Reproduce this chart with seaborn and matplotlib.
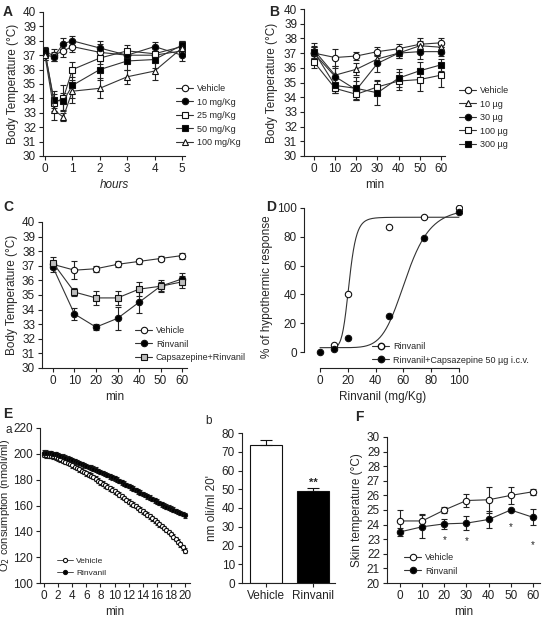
import matplotlib
matplotlib.use("Agg")
import matplotlib.pyplot as plt
import seaborn as sns
import numpy as np
import pandas as pd

# ---- panel A data (hours) ----
a_hours = [0, 0.33, 0.67, 1, 2, 3, 4, 5]
a_vehicle = [37.2, 37.0, 37.3, 37.6, 37.2, 37.0, 37.0, 37.3]
a_vehicle_err = [0.3, 0.4, 0.4, 0.4, 0.6, 0.3, 0.3, 0.3]
a_10 = [37.0, 36.9, 37.8, 38.0, 37.5, 37.0, 37.6, 37.0]
a_10_err = [0.3, 0.3, 0.4, 0.3, 0.5, 0.3, 0.3, 0.4]
a_25 = [37.3, 33.7, 34.0, 36.0, 36.8, 37.3, 37.1, 37.6]
a_25_err = [0.3, 0.6, 0.9, 0.5, 0.4, 0.4, 0.4, 0.3]
a_50 = [37.2, 33.9, 33.8, 34.9, 36.0, 36.6, 36.7, 37.7]
a_50_err = [0.3, 0.6, 0.6, 0.9, 0.7, 0.6, 0.6, 0.3]
a_100 = [37.0, 33.2, 32.7, 34.5, 34.7, 35.5, 35.9, 37.5]
a_100_err = [0.3, 0.7, 0.3, 0.8, 0.7, 0.5, 0.6, 0.5]

# ---- panel B data (min) ----
b_min = [0, 10, 20, 30, 40, 50, 60]
b_vehicle = [37.0, 36.7, 36.8, 37.1, 37.3, 37.6, 37.7]
b_vehicle_err = [0.4, 0.6, 0.3, 0.3, 0.3, 0.4, 0.3]
b_10 = [37.2, 35.5, 35.9, 36.6, 37.0, 37.5, 37.4]
b_10_err = [0.5, 0.6, 0.4, 0.3, 0.3, 0.3, 0.3]
b_30 = [37.0, 35.4, 34.5, 36.3, 37.0, 37.1, 37.1]
b_30_err = [0.4, 0.6, 0.6, 0.6, 0.3, 0.5, 0.3]
b_100 = [36.4, 34.6, 34.2, 34.7, 35.1, 35.2, 35.5]
b_100_err = [0.4, 0.3, 0.4, 0.5, 0.6, 0.8, 0.8]
b_300 = [37.1, 34.8, 34.6, 34.3, 35.3, 35.8, 36.2]
b_300_err = [0.4, 0.5, 0.8, 0.8, 0.6, 0.6, 0.4]

# ---- panel C data ----
c_min = [0, 10, 20, 30, 40, 50, 60]
c_vehicle = [37.1, 36.7, 36.8, 37.1, 37.3, 37.5, 37.7]
c_vehicle_err = [0.2, 0.6, 0.2, 0.2, 0.2, 0.2, 0.2]
c_rinvanil = [36.9, 33.7, 32.8, 33.4, 34.5, 35.6, 36.1]
c_rinvanil_err = [0.3, 0.4, 0.2, 0.8, 0.7, 0.3, 0.4]
c_caps = [37.2, 35.2, 34.8, 34.8, 35.4, 35.6, 35.9]
c_caps_err = [0.4, 0.3, 0.5, 0.5, 0.5, 0.4, 0.4]

# ---- panel D data (% hypothermic response) ----
d_dose_rinvanil = [10, 20, 50, 75, 100]
d_resp_rinvanil = [5, 40, 87, 94, 100]
d_dose_caps = [0, 10, 20, 50, 75, 100]
d_resp_caps = [0, 2, 10, 25, 79, 97]
# sigmoid fit parameters (bottom, top, EC50, hill slope)
d_fit_rinvanil = (3, 93.5, 21, 8)
d_fit_caps = (3, 100, 62, 7)

# ---- panel E a data: O2 consumption every 20 s ----
e_min = [i / 3 for i in range(61)]
e_vehicle = [199.0, 198.8, 198.7, 198.5, 198.0, 197.2, 196.5, 195.7, 194.8,
             194.0, 193.0, 192.0, 191.0, 190.0, 189.0, 188.0, 187.0, 186.0,
             185.0, 184.0, 183.0, 182.0, 180.7, 179.3, 178.0, 176.8, 175.7,
             174.5, 173.3, 172.2, 171.0, 169.7, 168.3, 167.0, 165.7, 164.3,
             163.0, 161.8, 160.7, 159.5, 158.2, 156.8, 155.5, 154.2, 152.8,
             151.5, 150.0, 148.5, 147.0, 145.5, 144.0, 142.5, 141.0, 139.5,
             138.0, 136.0, 134.0, 132.0, 130.0, 127.5, 125.0]
e_rinvanil = [201.0, 200.9, 200.7, 200.5, 200.0, 199.5, 199.0, 198.3, 197.7,
              197.0, 196.3, 195.7, 195.0, 194.3, 193.7, 193.0, 192.2, 191.3,
              190.5, 189.8, 189.2, 188.5, 187.7, 186.8, 186.0, 185.2, 184.3,
              183.5, 182.7, 181.8, 181.0, 180.0, 179.0, 178.0, 177.0, 176.0,
              175.0, 174.0, 173.0, 172.0, 171.0, 170.0, 169.0, 168.0, 167.0,
              166.0, 165.0, 164.0, 163.0, 162.0, 161.0, 160.0, 159.2, 158.3,
              157.5, 156.7, 155.8, 155.0, 154.2, 153.3, 152.5]
e_err = 1.8

# ---- panel E b data ----
eb_groups = ["Vehicle", "Rinvanil"]
eb_values = [73.5, 49.0]
eb_err = [3.0, 1.5]

# ---- panel F data ----
f_min = [0, 10, 20, 30, 40, 50, 60]
f_vehicle = [24.25, 24.25, 25.0, 25.65, 25.7, 26.0, 26.25]
f_vehicle_err = [0.75, 0.5, 0.2, 0.45, 0.9, 0.6, 0.2]
f_rinvanil = [23.5, 23.85, 24.05, 24.1, 24.35, 25.0, 24.5]
f_rinvanil_err = [0.3, 0.8, 0.35, 0.5, 0.6, 0.1, 0.55]
f_star_min = [20, 30, 50, 60]
f_star_y = [23.3, 23.2, 24.15, 22.95]

W, H = 545, 617
sns.set_theme(style="ticks")
plt.rcParams['font.family'] = ['Liberation Sans', 'DejaVu Sans']
plt.rcParams['axes.linewidth'] = 0.8
plt.rcParams['axes.edgecolor'] = '#222222'

fig = plt.figure(figsize=(W / 100, H / 100), dpi=100)
LINE = '#333333'
EDGE = '#111111'
MS = 4.6


def add_ax(left, top, right, bottom):
    return fig.add_axes([left / W, 1 - bottom / H, (right - left) / W, (bottom - top) / H])


def style(ax):
    sns.despine(ax=ax)
    ax.tick_params(labelsize=8.5, length=3, width=0.8, pad=2, colors='#222222')


def series(ax, x, y, err, marker, face, label, ms=MS, lw=0.8, cap=2.5):
    ax.errorbar(x, y, yerr=err, fmt='none', ecolor='#222222', elinewidth=0.8,
                capsize=cap, capthick=0.8, zorder=2)
    sns.lineplot(x=x, y=y, ax=ax, color=LINE, lw=lw, marker=marker, markersize=ms,
                 markerfacecolor=face, markeredgecolor=EDGE, markeredgewidth=0.8,
                 label=label, zorder=3)


def legend(ax, px, py, fs=6.5):
    ax.legend(loc='upper left', bbox_to_anchor=(px / W, 1 - py / H), bbox_transform=fig.transFigure,
              frameon=False, fontsize=fs, handlelength=1.9, handletextpad=0.4,
              labelspacing=0.5, borderpad=0, borderaxespad=0)


def panel_label(px, py, s, bold=True, size=10):
    fig.text(px / W, 1 - py / H, s, ha='left', va='center', fontsize=size,
             fontweight='bold' if bold else 'normal')


# Panel A
ax = add_ax(43, 12, 185, 156)
series(ax, a_hours, a_vehicle, a_vehicle_err, 'o', 'white', 'Vehicle')
series(ax, a_hours, a_10, a_10_err, 'o', 'black', '10 mg/Kg')
series(ax, a_hours, a_25, a_25_err, 's', 'white', '25 mg/Kg')
series(ax, a_hours, a_50, a_50_err, 's', 'black', '50 mg/Kg')
series(ax, a_hours, a_100, a_100_err, '^', 'white', '100 mg/Kg')
ax.set_xlim(-0.07, 5.11)
ax.set_ylim(30, 40)
ax.set_xticks(range(6))
ax.set_yticks(range(30, 41))
ax.set_xlabel('hours', fontsize=8.5, fontstyle='italic', labelpad=3)
ax.set_ylabel('Body Temperature (°C)', fontsize=8.5, labelpad=3)
style(ax)
legend(ax, 176, 84)

# Panel B
ax = add_ax(304, 9, 445, 156)
series(ax, b_min, b_vehicle, b_vehicle_err, 'o', 'white', 'Vehicle')
series(ax, b_min, b_10, b_10_err, '^', 'white', '10 µg')
series(ax, b_min, b_30, b_30_err, 'o', 'black', '30 µg')
series(ax, b_min, b_100, b_100_err, 's', 'white', '100 µg')
series(ax, b_min, b_300, b_300_err, 's', 'black', '300 µg')
ax.set_xlim(-4.7, 61.9)
ax.set_ylim(30, 40)
ax.set_xticks(b_min)
ax.set_yticks(range(30, 41))
ax.set_xlabel('min', fontsize=8.5, labelpad=3)
ax.set_ylabel('Body Temperature (°C)', fontsize=8.5, labelpad=4)
style(ax)
legend(ax, 459, 86)

# Panel C
ax = add_ax(42, 222, 187, 368)
series(ax, c_min, c_vehicle, c_vehicle_err, 'o', 'white', 'Vehicle')
series(ax, c_min, c_rinvanil, c_rinvanil_err, 'o', 'black', 'Rinvanil')
series(ax, c_min, c_caps, c_caps_err, 's', '#bdbdbd', 'Capsazepine+Rinvanil')
ax.set_xlim(-5.1, 62.3)
ax.set_ylim(30, 40)
ax.set_xticks(c_min)
ax.set_yticks(range(30, 41))
ax.set_xlabel('min', fontsize=8.5, labelpad=3)
ax.set_ylabel('Body Temperature (°C)', fontsize=8.5, labelpad=3)
style(ax)
legend(ax, 135, 326)

# Panel D
ax = add_ax(304, 205, 462, 368)


def hill(x, p):
    bottom, top, ec50, n = p
    x = np.asarray(x, dtype=float)
    return bottom + (top - bottom) / (1 + (ec50 / np.maximum(x, 1e-6)) ** n)


xr = np.linspace(10, 100, 200)
xc = np.linspace(0, 100, 200)
sns.lineplot(x=xr, y=hill(xr, d_fit_rinvanil), ax=ax, color=LINE, lw=0.8)
sns.lineplot(x=xc, y=hill(xc, d_fit_caps), ax=ax, color=LINE, lw=0.8)
ax.plot(d_dose_rinvanil, d_resp_rinvanil, ls='none', marker='o', ms=MS, mfc='white',
        mec=EDGE, mew=0.8, zorder=4)
ax.plot(d_dose_caps, d_resp_caps, ls='none', marker='o', ms=MS, mfc='black',
        mec=EDGE, mew=0.8, zorder=4)
h1 = plt.Line2D([], [], color=LINE, lw=0.8, marker='o', ms=MS, mfc='white', mec=EDGE)
h2 = plt.Line2D([], [], color=LINE, lw=0.8, marker='o', ms=MS, mfc='black', mec=EDGE)
ax.legend([h1, h2], ['Rinvanil', 'Rinvanil+Capsazepine 50 µg i.c.v.'], loc='upper left',
          bbox_to_anchor=(372 / W, 1 - 342 / H), bbox_transform=fig.transFigure,
          frameon=False, fontsize=6.5, handlelength=1.9, handletextpad=0.4,
          labelspacing=0.5, borderpad=0, borderaxespad=0)
ax.set_xlim(-11.5, 102.2)
ax.set_ylim(-11.1, 102)
ax.set_xticks(range(0, 101, 20))
ax.set_yticks(range(0, 101, 20))
ax.set_xlabel('Rinvanil (mg/Kg)', fontsize=8.5, labelpad=3)
ax.set_ylabel('% of hypothermic response', fontsize=8.5, labelpad=3)
style(ax)
ax.spines['left'].set_bounds(0, 100)
ax.spines['bottom'].set_bounds(0, 100)

# Panel E a
ax = add_ax(40, 428, 190, 583)
series(ax, e_min, e_vehicle, e_err, 'o', 'white', 'Vehicle', ms=3.0, lw=0.6, cap=1.2)
series(ax, e_min, e_rinvanil, e_err, 'o', 'black', 'Rinvanil', ms=3.0, lw=0.6, cap=1.2)
ax.set_xlim(-0.57, 20.7)
ax.set_ylim(100, 220)
ax.set_xticks(range(0, 21, 2))
ax.set_yticks(range(100, 221, 20))
ax.set_xlabel('min', fontsize=8.5, labelpad=3)
ax.set_ylabel('O$_2$ consumption (nmoli/ml)', fontsize=8, labelpad=0.5)
style(ax)
legend(ax, 57, 557, fs=6)

# Panel E b
ax = add_ax(242, 433, 335, 583)
eb = pd.DataFrame({'group': eb_groups, 'value': eb_values})
sns.barplot(data=eb, x='group', y='value', hue='group', palette=['white', 'black'],
            edgecolor='#111111', linewidth=0.8, width=0.68, legend=False, ax=ax)
ax.errorbar([0, 1], eb_values, yerr=[[0, 0], eb_err], fmt='none', ecolor='#111111',
            elinewidth=0.8, capsize=4, capthick=0.8)
ax.text(1, eb_values[1] + eb_err[1] + 0.5, '**', ha='center', va='bottom', fontsize=8,
        fontweight='bold')
ax.set_xlim(-0.51, 1.47)
ax.set_ylim(0, 80)
ax.set_yticks(range(0, 81, 10))
ax.set_xlabel('')
ax.set_ylabel("nm oli/ml 20'", fontsize=8.5, labelpad=3)
style(ax)

# Panel F
ax = add_ax(387, 437, 540, 583)
series(ax, f_min, f_vehicle, f_vehicle_err, 'o', 'white', 'Vehicle')
series(ax, f_min, f_rinvanil, f_rinvanil_err, 'o', 'black', 'Rinvanil')
for xs, ys in zip(f_star_min, f_star_y):
    ax.text(xs, ys, '*', ha='center', va='top', fontsize=7)
ax.set_xlim(-5.9, 63.2)
ax.set_ylim(20, 30)
ax.set_xticks(f_min)
ax.set_yticks(range(20, 31))
ax.set_xlabel('min', fontsize=8.5, labelpad=3)
ax.set_ylabel('Skin temperature (°C)', fontsize=8.5, labelpad=3)
style(ax)
legend(ax, 404, 553)

panel_label(3, 12, 'A')
panel_label(269, 12, 'B')
panel_label(3, 207, 'C')
panel_label(266, 207, 'D')
panel_label(3, 414, 'E')
panel_label(5, 430, 'a', bold=False, size=8.5)
panel_label(205, 421, 'b', bold=False, size=8.5)
panel_label(355, 417, 'F')

fig.savefig('out.png', dpi=100)
